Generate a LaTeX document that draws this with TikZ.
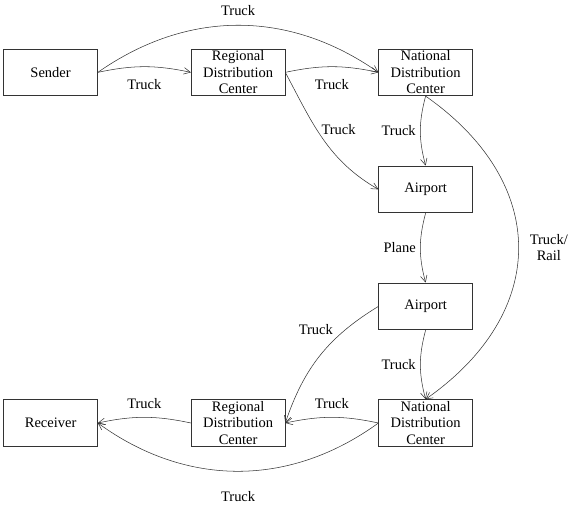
\documentclass[tikz,border=0pt]{standalone}
\usepackage{fontspec}
\setmainfont{Liberation Serif}
\usetikzlibrary{arrows.meta}
\begin{document}
\begin{tikzpicture}[
		box/.style={draw=black!80, line width=0.5pt, minimum width=2.5cm, minimum height=1.25cm, inner sep=1pt, align=center},
		link/.style={draw=black!80, line width=0.4pt, -{Straight Barb[length=5pt,width=5pt]}},
		font=\fontsize{11}{12.5}\selectfont]
		\useasboundingbox (-1.35,1.93) rectangle (13.85,-11.53);
		
		\node[box] (sender)   at (0,0)      {Sender};
		\node[box] (rdcA)     at (5,0)      {Regional\\Distribution\\Center};
		\node[box] (ndcA)     at (10,0)     {National\\Distribution\\Center};
		\node[box] (airA)     at (10,-3.12) {Airport};
		\node[box] (airB)     at (10,-6.24) {Airport};
		\node[box] (ndcB)     at (10,-9.35) {National\\Distribution\\Center};
		\node[box] (rdcB)     at (5,-9.35)  {Regional\\Distribution\\Center};
		\node[box] (receiver) at (0,-9.35)  {Receiver};
		
		\draw[link] (sender.east) to[bend left=35] node[above=4pt] {Truck} (ndcA.west);
		\draw[link] (sender.east) to[bend left=12] node[below=6pt] {Truck} (rdcA.west);
		\draw[link] (rdcA.east) to[bend left=12] node[below=6pt] {Truck} (ndcA.west);
		\draw[link] (rdcA.east) to[out=-62, in=150] node[pos=0.42, right] {Truck} (airA.west);
		\draw[link] (ndcA.south) to[bend right=15] node[left] {Truck} (airA.north);
		\draw[link] (airA.south) to[bend right=15] node[left] {Plane} (airB.north);
		\draw[link] (ndcA.south) to[out=-35, in=35, looseness=1.28] node[right=5pt, align=center] {Truck/\\Rail} (ndcB.north);
		\draw[link] (airB.south) to[bend right=15] node[left] {Truck} (ndcB.north);
		\draw[link] (airB.west) to[bend right=20] node[pos=0.25, left=6pt] {Truck} (rdcB.east);
		\draw[link] (ndcB.west) to[bend right=12] node[above=3pt] {Truck} (rdcB.east);
		\draw[link] (rdcB.west) to[bend right=12] node[above=3pt] {Truck} (receiver.east);
		\draw[link] (ndcB.west) to[bend left=36] node[below=12pt] {Truck} (receiver.east);
\end{tikzpicture}
\end{document}
